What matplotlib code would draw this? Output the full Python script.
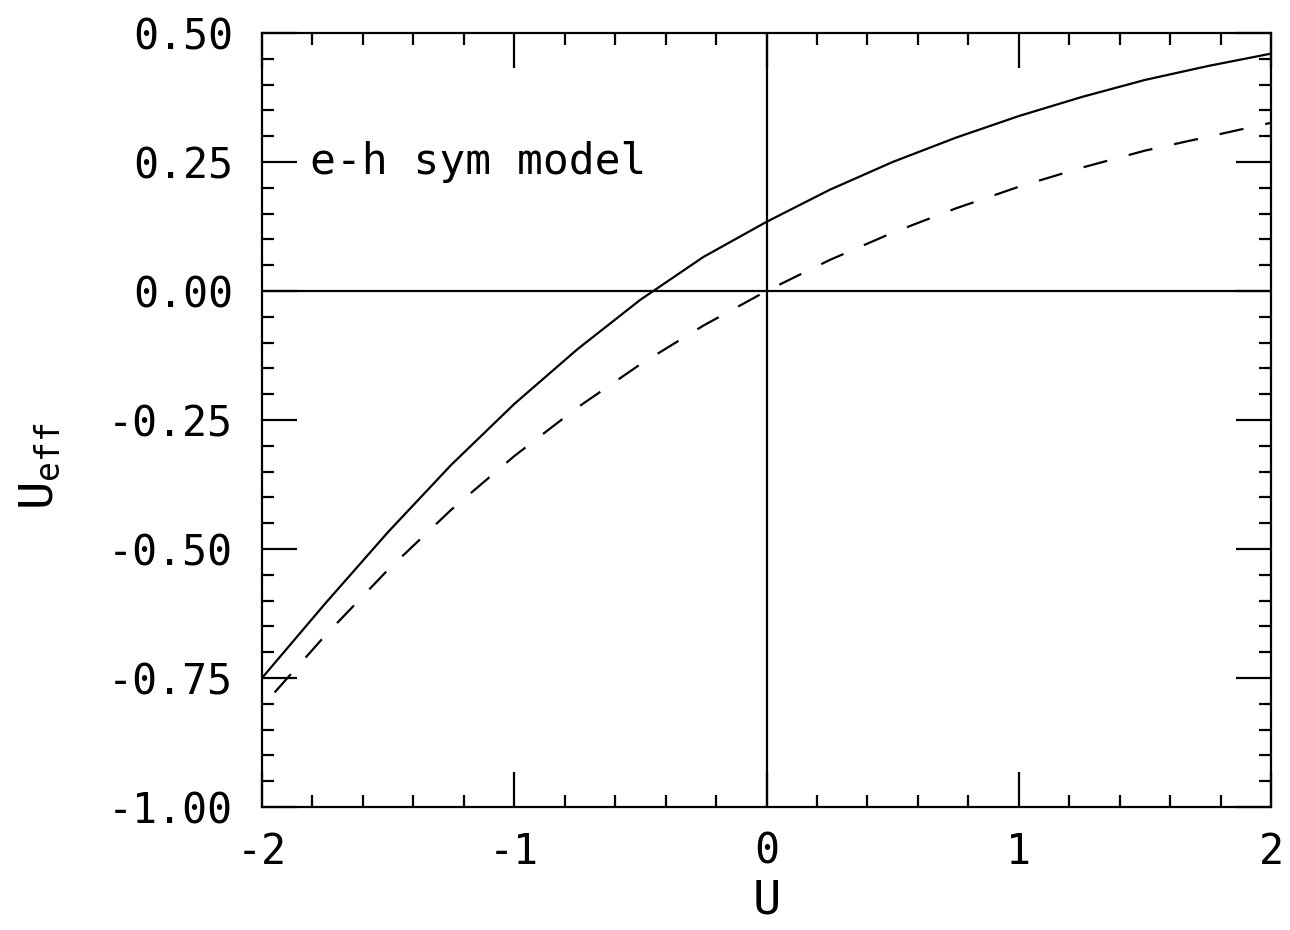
import numpy as np
import matplotlib
matplotlib.use("Agg")
import matplotlib.pyplot as plt
from matplotlib.ticker import MultipleLocator

# U_eff(U) for the e-h symmetric model
u_solid = [-2.0, -1.75, -1.5, -1.25, -1.0, -0.75, -0.5, -0.25, 0.0,
           0.25, 0.5, 0.75, 1.0, 1.25, 1.5, 1.75, 2.0]
ueff_solid = [-0.750, -0.606, -0.467, -0.337, -0.219, -0.113, -0.017, 0.066, 0.134,
              0.196, 0.250, 0.297, 0.339, 0.376, 0.409, 0.436, 0.460]

u_dashed = [-1.95, -1.75, -1.5, -1.25, -1.0, -0.75, -0.5, -0.25, 0.0,
            0.25, 0.5, 0.75, 1.0, 1.25, 1.5, 1.75, 2.0]
ueff_dashed = [-0.778, -0.668, -0.540, -0.424, -0.320, -0.226, -0.142, -0.067, 0.0,
               0.060, 0.113, 0.160, 0.202, 0.239, 0.272, 0.299, 0.326]

xticks = [-2, -1, 0, 1, 2]
xticklabels = ["-2", "-1", "0", "1", "2"]
yticks = [-1.0, -0.75, -0.5, -0.25, 0.0, 0.25, 0.5]
yticklabels = ["-1.00", "-0.75", "-0.50", "-0.25", "0.00", "0.25", "0.50"]

plt.rcParams['font.family'] = ['DejaVu Sans Mono', 'DejaVu Sans']

fig = plt.figure(figsize=(12.9, 9.3), dpi=100)
ax = fig.add_axes([262 / 1290, 1 - 807 / 930, 1009 / 1290, 774 / 930])

lw = 1.6
ax.plot(u_solid, ueff_solid, color="black", lw=lw)
dashed, = ax.plot(u_dashed, ueff_dashed, color="black", lw=lw)
dashed.set_dashes([11, 10])

# zero lines
ax.axhline(0, color="black", lw=lw)
ax.axvline(0, color="black", lw=lw)

ax.text(-1.81, 0.25, "e-h sym model", fontsize=31, va="center", ha="left")

ax.set_xlim(-2, 2)
ax.set_ylim(-1.0, 0.5)
ax.set_xticks(xticks)
ax.set_xticklabels(xticklabels)
ax.set_yticks(yticks)
ax.set_yticklabels(yticklabels)
ax.xaxis.set_minor_locator(MultipleLocator(0.2))
ax.yaxis.set_minor_locator(MultipleLocator(0.05))

ax.tick_params(which="both", direction="in", top=True, right=True, width=lw, labelsize=30)
ax.tick_params(axis="x", which="major", length=25, pad=17)
ax.tick_params(axis="y", which="major", length=25, pad=21)
ax.tick_params(which="minor", length=8.5)
for sp in ax.spines.values():
    sp.set_linewidth(lw)

ax.set_xlabel("U", fontsize=34)
ax.set_ylabel(r"$\mathregular{U_{eff}}$", fontsize=34)
ax.xaxis.set_label_coords(0.5, -0.092)
ax.yaxis.set_label_coords(-0.198, 0.44)

fig.savefig("out.png", dpi=100)
